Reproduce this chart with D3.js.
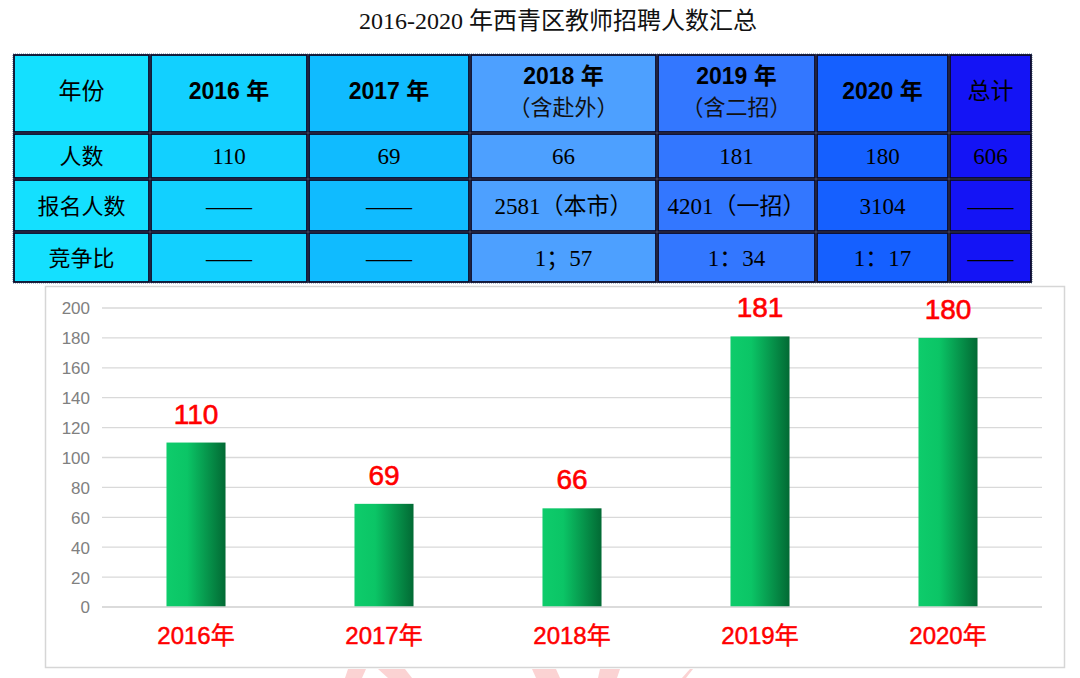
<!DOCTYPE html>
<html><head><meta charset="utf-8">
<script src="https://cdn.jsdelivr.net/npm/d3@7"></script>
<style>body{margin:0;background:#fff;}svg{display:block;}</style>
</head><body>
<svg id="c" width="1080" height="678"></svg>
<script>
const title = "2016-2020 年西青区教师招聘人数汇总";
const years = ["2016年","2017年","2018年","2019年","2020年"];
const hires = [110, 69, 66, 181, 180];
const yTicks = [0,20,40,60,80,100,120,140,160,180,200];
const headerLine1 = ["年份","2016 年","2017 年","2018 年","2019 年","2020 年","总计"];
const headerLine2 = ["","","","（含赴外）","（含二招）","",""];
const rowHires = ["人数","110","69","66","181","180","606"];
const rowApplicants = ["报名人数","——","——","2581（本市）","4201（一招）","3104","——"];
const rowRatio = ["竞争比","——","——","1；57","1：34","1：17","——"];
const colColors = ["#14E0FF","#12D0FF","#10BBFF","#4DA0FF","#3377FF","#1560FF","#1414F5"];

(function(){
const svg = d3.select("#c");
const serif = "'Liberation Serif','Noto Sans CJK SC',serif";
const sans = "'Liberation Sans','Noto Sans CJK SC',sans-serif";

// Title
svg.append("text").attr("x",558).attr("y",29).attr("text-anchor","middle")
  .attr("font-family",serif).attr("font-size",24).attr("fill","#111").text(title);

// Table
const colX = [13,150,308,470,657,816,949,1032];
const rowY = [54,133,179,232,283];
const tbl = svg.append("g");
tbl.append("rect").attr("x",colX[0]).attr("y",rowY[0]).attr("width",colX[7]-colX[0]).attr("height",rowY[4]-rowY[0])
  .attr("fill","none").attr("stroke","#5a7aa0").attr("stroke-dasharray","1,1");
const rows = [null,rowHires,rowApplicants,rowRatio];
for(let r=0;r<4;r++){
  for(let c=0;c<7;c++){
    tbl.append("rect").attr("x",colX[c]+1).attr("y",rowY[r]+1)
      .attr("width",colX[c+1]-colX[c]-2).attr("height",rowY[r+1]-rowY[r]-2)
      .attr("fill",colColors[c]).attr("stroke","#0a0a28").attr("stroke-width",1.8);
    const cx=(colX[c]+colX[c+1])/2, cy=(rowY[r]+rowY[r+1])/2;
    if(r===0){
      if(headerLine2[c]){
        tbl.append("text").attr("x",cx).attr("y",cy-10).attr("text-anchor","middle")
          .attr("font-family",sans).attr("font-weight","bold").attr("font-size",23).attr("fill","#000").text(headerLine1[c]);
        tbl.append("text").attr("x",cx).attr("y",cy+21).attr("text-anchor","middle")
          .attr("font-family",serif).attr("font-size",22).attr("fill","#111").text(headerLine2[c]);
      } else {
        const plain = (c===0||c===6);
        tbl.append("text").attr("x",cx).attr("y",cy+5).attr("text-anchor","middle")
          .attr("font-family",sans).attr("font-weight",plain?"normal":"bold").attr("font-size",23)
          .attr("fill","#000").text(headerLine1[c]);
      }
    } else {
      const txt = rows[r][c];
      tbl.append("text").attr("x",cx).attr("y",cy+8).attr("text-anchor","middle")
        .attr("font-family",c===0?sans:serif).attr("font-size",c===0?22:23)
        .attr("fill","#000").text(txt);
    }
  }
}

// Chart box
svg.append("rect").attr("x",45.5).attr("y",286.5).attr("width",1019).attr("height",381)
  .attr("fill","#fff").attr("stroke","#d6d6d6").attr("stroke-width",1.5);

// Watermark (faint logo shapes partly below chart)
const wm = svg.append("g").attr("fill","#fbd3d3");
wm.append("path").attr("d","M348,669 L366,669 L362,678 L345,678 Z");
wm.append("path").attr("d","M378,669 L405,669 L412,678 L388,678 Z");
wm.append("path").attr("d","M532,669 L556,669 L560,678 L536,678 Z");
wm.append("path").attr("d","M600,669 L620,669 L617,678 L598,678 Z");
wm.append("path").attr("d","M690,669 L693,669 L686,678 L682,678 Z");

const pl=102, pr=1042, pt=308, pb=607;
const x = d3.scaleBand().domain(years).range([pl,pr]).paddingInner(0.686).paddingOuter(0.343);
const y = d3.scaleLinear().domain([0,200]).range([pb,pt]);

// grid
svg.append("g").selectAll("line").data(yTicks).join("line")
  .attr("x1",pl).attr("x2",pr).attr("y1",d=>y(d)).attr("y2",d=>y(d))
  .attr("stroke","#d9d9d9").attr("stroke-width",1.3);

// y axis labels
const yAxis = svg.append("g").attr("transform",`translate(${pl-12},0)`)
  .call(d3.axisLeft(y).tickValues(yTicks).tickSize(0).tickPadding(0));
yAxis.select(".domain").remove();
yAxis.selectAll("text").attr("font-family",sans).attr("font-size",17).attr("fill","#808080").attr("dy","0.35em");

// gradient
const defs = svg.append("defs");
const g = defs.append("linearGradient").attr("id","bg").attr("x1","0").attr("x2","1").attr("y1","0").attr("y2","0");
g.append("stop").attr("offset","0").attr("stop-color","#0ECC6B");
g.append("stop").attr("offset","0.35").attr("stop-color","#0BC566");
g.append("stop").attr("offset","1").attr("stop-color","#026A34");

svg.append("g").selectAll("rect").data(hires).join("rect")
  .attr("x",(d,i)=>x(years[i])).attr("width",x.bandwidth())
  .attr("y",d=>y(d)).attr("height",d=>y(0)-y(d)).attr("fill","url(#bg)");

// value labels
svg.append("g").selectAll("text").data(hires).join("text")
  .attr("x",(d,i)=>x(years[i])+x.bandwidth()/2).attr("y",d=>y(d)-19)
  .attr("text-anchor","middle").attr("font-family",sans).attr("font-size",28)
  .attr("fill","#ff0000").attr("stroke","#ff0000").attr("stroke-width",0.6).text(d=>d);

// x axis line + labels
svg.append("line").attr("x1",pl).attr("x2",pr).attr("y1",pb).attr("y2",pb)
  .attr("stroke","#d9d9d9").attr("stroke-width",1.3);
const xAxis = svg.append("g").attr("transform",`translate(0,${pb})`)
  .call(d3.axisBottom(x).tickSize(0).tickPadding(0));
xAxis.select(".domain").remove();
xAxis.selectAll("text").attr("y",37).attr("dy",0).attr("font-family",sans).attr("font-size",24)
  .attr("fill","#ff0000").attr("stroke","#ff0000").attr("stroke-width",0.5);
})();
</script>
</body></html>
